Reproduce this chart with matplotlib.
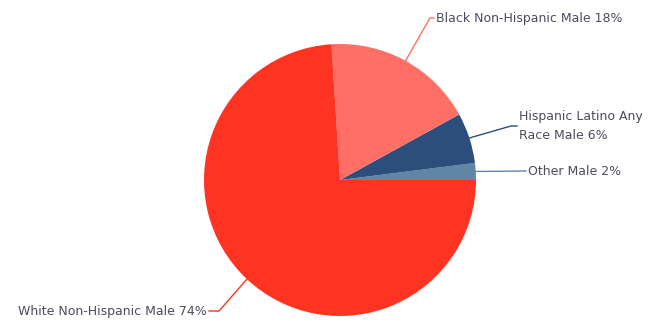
import matplotlib
matplotlib.use("Agg")
import matplotlib.pyplot as plt
import numpy as np

# data (start at 3 o'clock, counterclockwise)
labels = ["Other Male", "Hispanic Latino Any\nRace Male",
          "Black Non-Hispanic Male", "White Non-Hispanic Male"]
shares = [2, 6, 18, 74]
colors = ["#5f86a5", "#2b4f7a", "#ff6f66", "#ff3322"]

# label anchors in pixel space (x, y from top), elbow and alignment
label_pos = [(528, 171), (519, 126), (436, 18), (207, 311)]
elbows = [(525, 171), (511, 126), (430, 18), (219, 311)]
aligns = ["left", "left", "left", "right"]

W, H = 666, 322
fig = plt.figure(figsize=(W / 100, H / 100), dpi=100)
ax = fig.add_axes([0, 0, 1, 1])
ax.set_xlim(0, W)
ax.set_ylim(0, H)
ax.set_aspect("equal")
ax.axis("off")

cx, cy, r = 340, H - 180, 136
wedges, _ = ax.pie(shares, colors=colors, startangle=0, counterclock=True,
                   center=(cx, cy), radius=r, frame=True,
                   wedgeprops=dict(linewidth=0))
ax.set_xlim(0, W)
ax.set_ylim(0, H)
ax.axis("off")

for w, lab, pct, (tx, ty), (ex, ey), ha, col in zip(
        wedges, labels, shares, label_pos, elbows, aligns, colors):
    mid = np.deg2rad((w.theta1 + w.theta2) / 2)
    px, py = cx + r * np.cos(mid), cy + r * np.sin(mid)
    ax.plot([px, ex, tx + (2 if ha == "right" else -2)],
            [py, H - ey, H - ty], color=col, linewidth=1)
    ax.text(tx, H - ty, f"{lab} {pct}%", ha=ha, va="center",
            fontsize=9, color="#4b4b5c", linespacing=1.6)

fig.savefig("out.png", dpi=100)
